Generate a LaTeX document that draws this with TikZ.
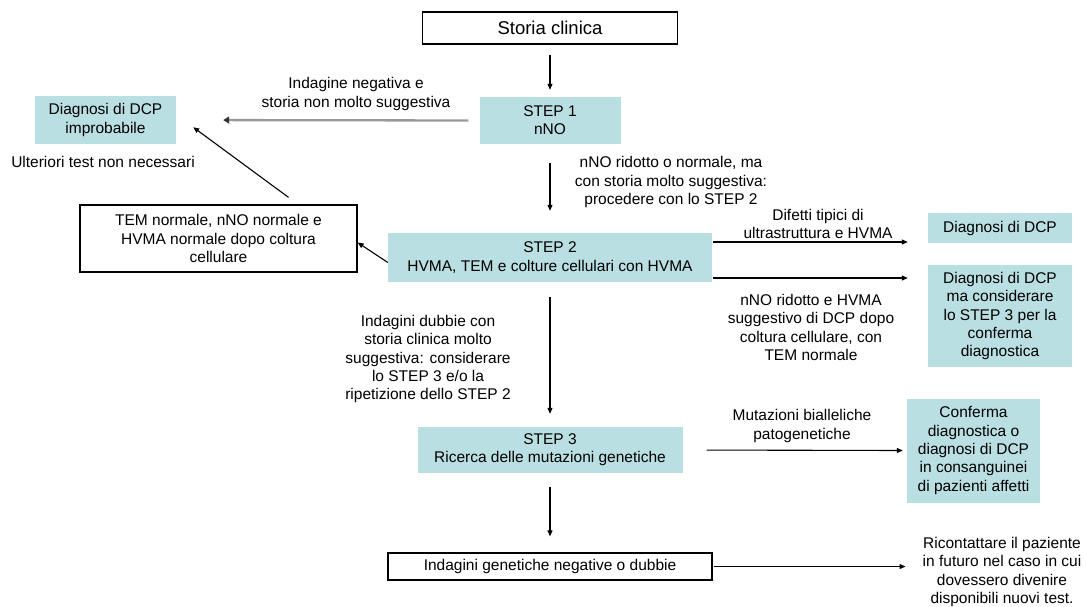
\documentclass[tikz,border=0pt]{standalone}
\usepackage{fontspec}
\setmainfont{Liberation Sans}
\usetikzlibrary{arrows.meta}
\definecolor{stepfill}{RGB}{186,223,226}

\begin{document}
\begin{tikzpicture}[x=1pt,y=-1pt,>={Triangle[length=6pt,width=5pt]},
    font=\fontsize{15.5}{18.3}\selectfont,
    fase/.style={fill=stepfill,align=center,inner sep=0pt},
    riquadro/.style={draw,line width=1.3pt,align=center,inner sep=0pt},
    nota/.style={align=center,inner sep=0pt},
    freccia/.style={->,line width=1.1pt}]
%  \draw[help lines] (0,0) grid[step=50] (1086,606);
    \useasboundingbox (0,0) rectangle (1086,606);
    \path (550,28) node(storia) [riquadro,minimum width=255pt,minimum height=32pt,font=\fontsize{18.5}{22}\selectfont] {Storia clinica}
    (550,120.5) node(step1) [fase,minimum width=141pt,minimum height=47pt] {STEP 1\\nNO}
    (105.5,120) node(improb) [fase,minimum width=141pt,minimum height=48pt] {Diagnosi di DCP\\improbabile}
    (218.5,238.5) node(tem) [riquadro,minimum width=277pt,minimum height=67pt] {TEM normale, nNO normale e\\HVMA normale dopo coltura\\cellulare}
    (550,257.5) node(step2) [fase,minimum width=324pt,minimum height=49pt] {STEP 2\\HVMA, TEM e colture cellulari con HVMA}
    (1000,228) node(dcp) [fase,minimum width=144pt,minimum height=30pt] {Diagnosi di DCP}
    (1000,316) node(dcpma) [fase,minimum width=144pt,minimum height=102pt] {Diagnosi di DCP\\ma considerare\\lo STEP 3 per la\\conferma\\diagnostica}
    (550,450) node(step3) [fase,minimum width=265pt,minimum height=46pt] {STEP 3\\Ricerca delle mutazioni genetiche}
    (973.5,450.5) node(conferma) [fase,minimum width=133pt,minimum height=104pt] {Conferma\\diagnostica o\\diagnosi di DCP\\in consanguinei\\di pazienti affetti}
    (550,566.5) node(neggen) [riquadro,minimum width=324pt,minimum height=27pt] {Indagini genetiche negative o dubbie}
    (1002,572) node(ric) [nota] {Ricontattare il paziente\\in futuro nel caso in cui\\dovessero divenire\\disponibili nuovi test.};
    % etichette
    \path (356,94) node(lneg) [nota] {Indagine negativa e\\storia non molto suggestiva}
    (103,162) node(lult) [nota] {Ulteriori test non necessari}
    (671,182) node(lnno) [nota] {nNO ridotto o normale, ma\\con storia molto suggestiva:\\procedere con lo STEP 2}
    (818,224) node(ldif) [nota] {Difetti tipici di\\ultrastruttura e HVMA}
    (811,327.5) node(lrid) [nota] {nNO ridotto e HVMA\\suggestivo di DCP dopo\\coltura cellulare, con\\TEM normale}
    (428,359) node(ldub) [nota] {Indagini dubbie con\\storia clinica molto\\suggestiva: considerare\\lo STEP 3 e/o la\\ripetizione dello STEP 2}
    (802,426) node(lmut) [nota] {Mutazioni bialleliche\\patogenetiche};
    \coordinate (d1) at ([yshift=15.5pt]step2.east);
    \coordinate (d2) at ([yshift=-20.5pt]step2.east);
    \draw[freccia,shorten <=10pt,shorten >=7pt] (storia) -- (step1);
    \draw[-{Triangle[length=6pt,width=7pt,color=black!80]},line width=2.3pt,draw=black!40,shorten <=11pt,shorten >=47pt] (step1.west) -- (improb.east);
    \draw[freccia,shorten <=19pt,shorten >=22pt] (step1) -- (step2);
    \draw[freccia] ([xshift=70pt,yshift=7pt]tem.north) -- ([xshift=17pt,yshift=17pt]improb.south east);
    \draw[freccia] ([yshift=-5pt]step2.west) -- ([yshift=-4pt]tem.east);
    \draw[freccia,shorten <=1pt,shorten >=20pt] (d1) -- (d1 -| dcp.west);
    \draw[freccia,shorten <=1pt,shorten >=20pt] (d2) -- (d2 -| dcpma.west);
    \draw[freccia,shorten <=15pt,shorten >=13pt] (step2) -- (step3);
    \draw[freccia,shorten <=24pt,shorten >=4pt] (step3.east) -- (conferma.west);
    \draw[freccia,shorten <=14pt,shorten >=16pt] (step3) -- (neggen);
    \draw[freccia,shorten <=1pt,shorten >=17pt] (neggen.east) -- (neggen.east -| ric.west);
\end{tikzpicture}
\end{document}
